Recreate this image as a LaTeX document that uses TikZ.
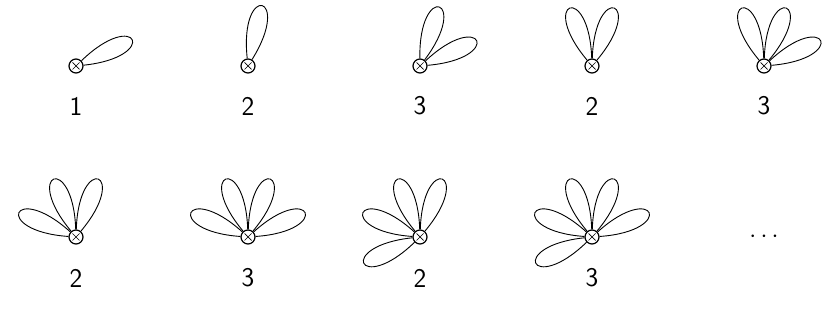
\documentclass[tikz,border=0pt]{standalone}
\usepackage{tikz}

\tikzset{
  vertex/.style={circle, draw, line width=1.2pt, fill=white, inner sep=0pt, minimum size=14pt,
    path picture={\draw[line width=0.7pt] (path picture bounding box.north west)++(3.5pt,-3.5pt) -- ++(7pt,-7pt)
      (path picture bounding box.north east)++(-3.5pt,-3.5pt) -- ++(-7pt,-7pt);}},
  petal/.style={line width=0.9pt},
  lbl/.style={font=\sffamily\fontsize{27}{30}\selectfont}
}

\begin{document}
\begin{tikzpicture}[x=1pt,y=1pt]
    \useasboundingbox (0,0) rectangle (827,326);
    % top row
    \node[vertex] (v1) at (76,260) {};
    \node[vertex] (v2) at (248,260) {};
    \node[vertex] (v3) at (420,260) {};
    \node[vertex] (v4) at (592,260) {};
    \node[vertex] (v5) at (764,260) {};
    \node[lbl] (l1) at (76,220) {1};
    \node[lbl] (l2) at (248,220) {2};
    \node[lbl] (l3) at (420,220) {3};
    \node[lbl] (l4) at (592,220) {2};
    \node[lbl] (l5) at (764,220) {3};
    % bottom row
    \node[vertex] (v6) at (76,89) {};
    \node[vertex] (v7) at (248,89) {};
    \node[vertex] (v8) at (420,89) {};
    \node[vertex] (v9) at (592,89) {};
    \node[lbl] (dots) at (764,89) {$\cdots$};
    \node[lbl] (l6) at (76,48) {2};
    \node[lbl] (l7) at (248,48) {3};
    \node[lbl] (l8) at (420,48) {2};
    \node[lbl] (l9) at (592,48) {3};
    % petals
    \foreach \v/\angs in {v1/{25}, v2/{77}, v3/{72,24}, v4/{111,69}, v5/{111,69,24},
        v6/{157,111,69}, v7/{157,111,69,23}, v8/{205,157,111,69}, v9/{205,157,111,69,23}}
      \foreach \a in \angs
        \draw[petal] (\v) .. controls +(\a-19:85) and +(\a+19:85) .. (\v);
\end{tikzpicture}
\end{document}
